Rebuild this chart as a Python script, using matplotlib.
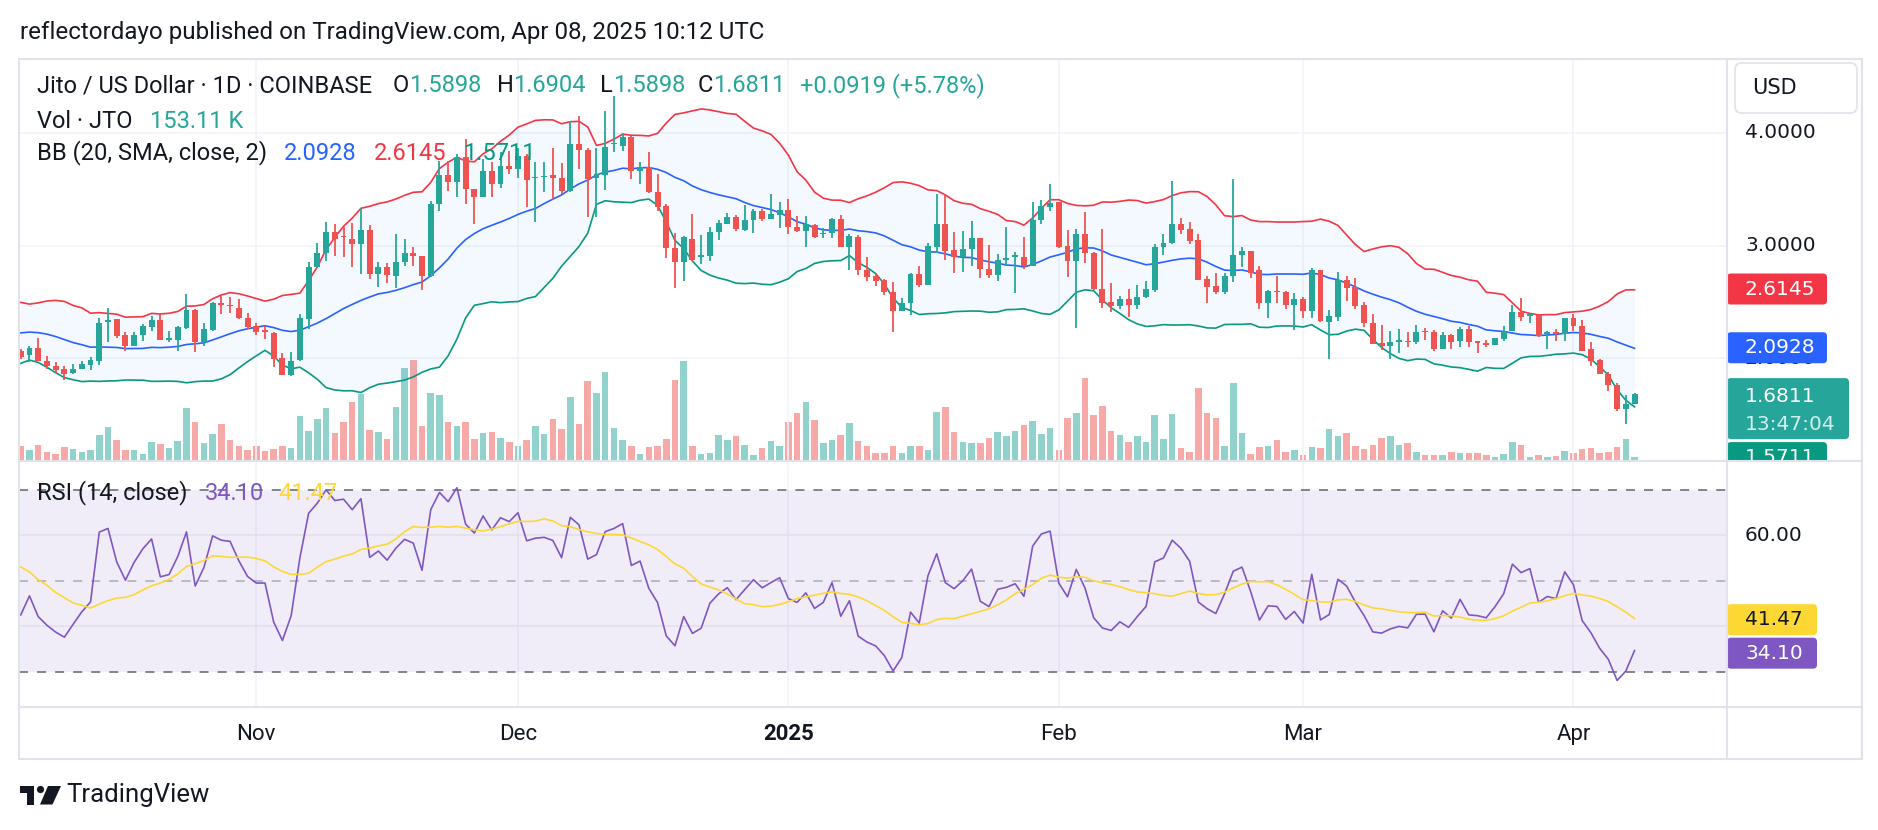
import matplotlib
matplotlib.use("Agg")
import matplotlib.pyplot as plt
import numpy as np
import pandas as pd
from matplotlib.patches import FancyBboxPatch, Rectangle, Polygon, Circle
from matplotlib.lines import Line2D

W, H = 1878, 830
plt.rcParams['font.family'] = ['Roboto', 'DejaVu Sans']

# JTO / USD daily candles (COINBASE), 2024-10-05 .. 2025-04-08
dates = pd.date_range('2024-10-05', '2025-04-08', freq='D')

opens = [2.067, 2.029, 2.088, 1.979, 1.935, 1.900, 1.868, 1.906, 1.941, 1.979,
         2.323, 2.346, 2.205, 2.111, 2.205, 2.273, 2.340, 2.164, 2.164, 2.264,
         2.425, 2.141, 2.252, 2.487, 2.475, 2.449, 2.361, 2.282, 2.252, 2.223,
         2.000, 1.853, 1.988, 2.346, 2.809, 2.938, 3.123, 3.085, 3.056, 3.012,
         3.138, 2.748, 2.809, 2.733, 2.850, 2.933, 2.909, 2.727, 3.367, 3.630,
         3.563, 3.783, 3.504, 3.431, 3.660, 3.548, 3.710, 3.680, 3.795, 3.601,
         3.607, 3.625, 3.601, 3.484, 3.900, 3.848, 3.601, 3.630, 3.900, 3.886,
         3.965, 3.660, 3.701, 3.475, 3.349, 2.977, 2.850, 3.056, 2.903, 2.909,
         3.120, 3.196, 3.255, 3.138, 3.226, 3.305, 3.240, 3.270, 3.314, 3.167,
         3.132, 3.182, 3.103, 3.109, 3.232, 2.991, 3.079, 2.780, 2.733, 2.692,
         2.592, 2.419, 2.487, 2.751, 2.654, 2.991, 3.196, 2.962, 2.903, 2.968,
         3.065, 2.792, 2.742, 2.874, 2.903, 2.897, 2.821, 3.226, 3.343, 3.387,
         2.997, 2.859, 3.103, 2.938, 2.616, 2.499, 2.463, 2.528, 2.469, 2.545,
         2.610, 2.985, 3.021, 3.191, 3.144, 3.050, 2.704, 2.639, 2.587, 2.727,
         2.915, 2.953, 2.786, 2.487, 2.601, 2.587, 2.469, 2.522, 2.419, 2.780,
         2.323, 2.370, 2.698, 2.633, 2.469, 2.317, 2.135, 2.111, 2.147, 2.155,
         2.141, 2.243, 2.229, 2.082, 2.205, 2.155, 2.258, 2.150, 2.132, 2.120,
         2.170, 2.243, 2.413, 2.378, 2.384, 2.217, 2.229, 2.214, 2.361, 2.287,
         2.082, 1.985, 1.862, 1.765, 1.548, 1.5898]
highs = [2.082, 2.111, 2.176, 2.018, 1.965, 1.930, 1.950, 1.979, 2.015, 2.361,
         2.449, 2.352, 2.229, 2.235, 2.302, 2.375, 2.390, 2.243, 2.287, 2.566,
         2.434, 2.317, 2.499, 2.551, 2.545, 2.522, 2.399, 2.317, 2.282, 2.235,
         2.047, 2.053, 2.390, 2.850, 3.021, 3.211, 3.191, 3.167, 3.202, 3.334,
         3.182, 2.850, 2.845, 3.103, 3.056, 2.991, 2.909, 3.396, 3.754, 3.754,
         3.812, 3.944, 3.504, 3.768, 3.739, 3.827, 3.836, 3.871, 3.812, 3.739,
         3.739, 3.871, 3.730, 4.106, 4.150, 3.871, 3.871, 4.199, 4.326, 4.003,
         3.974, 3.745, 3.827, 3.636, 3.372, 3.109, 3.085, 3.284, 3.094, 3.167,
         3.226, 3.290, 3.270, 3.358, 3.328, 3.328, 3.460, 3.387, 3.416, 3.261,
         3.261, 3.196, 3.152, 3.249, 3.270, 3.103, 3.094, 2.897, 2.757, 2.704,
         2.674, 2.537, 2.757, 2.821, 3.021, 3.455, 3.455, 3.123, 3.132, 3.220,
         3.065, 3.006, 2.927, 3.167, 2.947, 3.079, 3.387, 3.402, 3.543, 3.387,
         3.138, 3.147, 3.299, 2.947, 3.147, 2.669, 2.551, 2.616, 2.654, 2.683,
         3.015, 3.103, 3.578, 3.246, 3.211, 3.103, 2.733, 2.757, 2.757, 3.592,
         2.985, 2.953, 2.815, 2.604, 2.733, 2.595, 2.575, 2.545, 2.801, 2.780,
         2.428, 2.762, 2.733, 2.713, 2.499, 2.390, 2.293, 2.243, 2.258, 2.229,
         2.293, 2.264, 2.252, 2.229, 2.214, 2.273, 2.287, 2.155, 2.164, 2.176,
         2.287, 2.469, 2.531, 2.405, 2.390, 2.238, 2.258, 2.361, 2.390, 2.337,
         2.141, 1.994, 1.877, 1.783, 1.672, 1.6904]
lows = [1.994, 1.965, 1.971, 1.906, 1.871, 1.804, 1.862, 1.900, 1.891, 1.944,
        2.141, 2.176, 2.067, 2.106, 2.155, 2.238, 2.164, 2.147, 2.067, 2.258,
        2.053, 2.111, 2.243, 2.390, 2.405, 2.346, 2.258, 2.205, 2.170, 1.921,
        1.848, 1.842, 1.979, 2.258, 2.801, 2.859, 2.909, 2.903, 2.809, 2.748,
        2.704, 2.633, 2.669, 2.625, 2.815, 2.815, 2.604, 2.721, 3.308, 3.484,
        3.431, 3.372, 3.196, 3.431, 3.431, 3.513, 3.636, 3.601, 3.343, 3.211,
        3.475, 3.408, 3.460, 3.475, 3.680, 3.255, 3.255, 3.496, 3.827, 3.836,
        3.587, 3.548, 3.466, 3.308, 2.889, 2.625, 2.683, 2.859, 2.839, 2.859,
        3.050, 3.191, 3.132, 3.132, 3.114, 3.220, 3.232, 3.152, 3.103, 3.120,
        2.985, 3.065, 3.065, 3.070, 2.991, 2.780, 2.742, 2.683, 2.645, 2.557,
        2.229, 2.419, 2.381, 2.633, 2.654, 2.933, 2.874, 2.757, 2.762, 2.815,
        2.713, 2.713, 2.683, 2.830, 2.581, 2.792, 2.821, 3.191, 3.308, 2.977,
        2.721, 2.264, 2.845, 2.610, 2.449, 2.413, 2.434, 2.370, 2.434, 2.537,
        2.587, 2.918, 3.015, 3.103, 3.015, 2.698, 2.487, 2.569, 2.569, 2.674,
        2.809, 2.713, 2.440, 2.361, 2.487, 2.440, 2.252, 2.361, 2.361, 2.323,
        1.994, 2.331, 2.507, 2.440, 2.273, 2.126, 2.076, 1.994, 2.047, 2.097,
        2.126, 2.164, 2.067, 2.082, 2.082, 2.103, 2.103, 2.047, 2.103, 2.120,
        2.155, 2.243, 2.331, 2.317, 2.191, 2.082, 2.155, 2.155, 2.243, 2.067,
        1.930, 1.856, 1.707, 1.531, 1.416, 1.5898]
closes = [2.009, 2.088, 1.979, 1.930, 1.891, 1.862, 1.906, 1.950, 1.985, 2.317,
          2.340, 2.199, 2.111, 2.205, 2.282, 2.340, 2.164, 2.176, 2.273, 2.425,
          2.141, 2.258, 2.493, 2.469, 2.463, 2.361, 2.273, 2.235, 2.235, 1.994,
          1.853, 1.979, 2.361, 2.809, 2.938, 3.123, 3.056, 3.073, 3.012, 3.138,
          2.748, 2.809, 2.742, 2.850, 2.933, 2.909, 2.727, 3.367, 3.630, 3.563,
          3.783, 3.504, 3.431, 3.660, 3.548, 3.710, 3.680, 3.795, 3.584, 3.613,
          3.622, 3.601, 3.484, 3.900, 3.848, 3.592, 3.636, 3.877, 3.912, 3.965,
          3.660, 3.701, 3.475, 3.343, 2.977, 2.850, 3.079, 2.874, 2.915, 3.120,
          3.202, 3.255, 3.144, 3.226, 3.305, 3.240, 3.279, 3.314, 3.161, 3.132,
          3.191, 3.079, 3.114, 3.232, 2.991, 3.085, 2.780, 2.721, 2.683, 2.587,
          2.419, 2.487, 2.751, 2.654, 2.997, 3.196, 2.956, 2.903, 2.968, 3.065,
          2.792, 2.742, 2.874, 2.889, 2.915, 2.821, 3.226, 3.349, 3.378, 2.985,
          2.859, 3.103, 2.933, 2.616, 2.493, 2.463, 2.528, 2.469, 2.545, 2.616,
          2.985, 3.021, 3.196, 3.138, 3.044, 2.698, 2.633, 2.587, 2.733, 2.918,
          2.953, 2.757, 2.487, 2.595, 2.589, 2.469, 2.522, 2.419, 2.780, 2.331,
          2.375, 2.692, 2.625, 2.463, 2.317, 2.126, 2.111, 2.141, 2.158, 2.144,
          2.229, 2.229, 2.082, 2.205, 2.147, 2.258, 2.141, 2.135, 2.120, 2.176,
          2.243, 2.413, 2.367, 2.390, 2.199, 2.229, 2.217, 2.355, 2.287, 2.067,
          1.979, 1.856, 1.760, 1.548, 1.589, 1.6811]
# volume, thousands of JTO
volumes = [576, 422, 614, 346, 256, 538, 461, 346, 422, 998,
           1306, 806, 422, 422, 269, 730, 653, 499, 768, 2035,
           1498, 691, 1037, 1421, 806, 576, 422, 576, 384, 461,
           576, 499, 1728, 1152, 1613, 2035, 1075, 1498, 2266, 2573,
           1190, 1114, 845, 2074, 3571, 3878, 1344, 2611, 2534, 1498,
           1344, 1498, 845, 1075, 1114, 883, 730, 576, 806, 1344,
           1037, 1613, 1229, 2458, 1421, 3072, 2611, 3418, 1267, 806,
           576, 269, 538, 576, 845, 3110, 3840, 576, 269, 307,
           998, 806, 960, 614, 230, 499, 768, 576, 1498, 1843,
           2266, 1574, 691, 806, 998, 1459, 768, 576, 307, 307,
           576, 307, 576, 576, 422, 1882, 2074, 1114, 730, 691,
           691, 883, 1114, 960, 1152, 1382, 1536, 1037, 1267, 422,
           1651, 1843, 3187, 1766, 2112, 1152, 998, 730, 960, 730,
           1766, 845, 1805, 499, 346, 2803, 1843, 1651, 576, 2995,
           1075, 269, 538, 576, 806, 346, 422, 230, 538, 499,
           1229, 960, 1075, 576, 461, 614, 883, 960, 614, 691,
           346, 230, 230, 230, 346, 307, 307, 307, 230, 154,
           269, 730, 614, 154, 230, 154, 192, 384, 307, 461,
           499, 307, 346, 538, 845, 153.11]

# closes of the days before the visible window (not drawn), estimated from the
# band / RSI levels at the left edge; they only start the BB and RSI calculations
closes_before = [2.05, 2.02, 2.08, 2.00, 1.97, 2.03, 1.99, 1.95, 2.00, 1.96,
                 1.95, 2.08, 2.19, 2.32, 2.39, 2.45, 2.33, 2.42, 2.29, 2.37,
                 2.25, 2.31, 2.19, 2.27, 2.15, 2.21, 2.10, 2.14, 2.08]

# values printed in legend and on the scales
last_o, last_h, last_l, last_c = 1.5898, 1.6904, 1.5898, 1.6811
change, change_pct = 0.0919, 5.78
last_vol = '153.11 K'
bb_basis, bb_upper, bb_lower = 2.0928, 2.6145, 1.5711
rsi_last, rsi_ma_last = 34.10, 41.47
countdown = '13:47:04'
price_ticks = [4.0, 3.0, 2.0]
rsi_ticks = [60.0]
month_labels = ['Nov', 'Dec', '2025', 'Feb', 'Mar', 'Apr']

UP, DN = '#26A69A', '#EF5350'
TXT, GRID, BORDER = '#131722', '#F0F3FA', '#E0E3EB'

# ---- indicators -------------------------------------------------------------
npre = len(closes_before)
allc = pd.Series(closes_before + closes)
mid = allc.rolling(20).mean()
sd = allc.rolling(20).std(ddof=0)
bb_mid = mid.values[npre:]
bb_up = (mid + 2 * sd).values[npre:]
bb_lo = (mid - 2 * sd).values[npre:]

d = allc.diff().fillna(0).values
gain = np.where(d > 0, d, 0.0)
loss = np.where(d < 0, -d, 0.0)


def rma(v, n):
    out = np.full(len(v), np.nan)
    out[n] = v[1:n + 1].mean()
    for k in range(n + 1, len(v)):
        out[k] = (out[k - 1] * (n - 1) + v[k]) / n
    return out


rsi_all = 100 - 100 / (1 + rma(gain, 14) / rma(loss, 14))
rsi_ma_all = pd.Series(rsi_all).rolling(14).mean().values
rsi = rsi_all[npre:]
rsi_ma = rsi_ma_all[npre:]

# ---- layout (pixels) --------------------------------------------------------
L, R, RR = 19, 1727, 1862
TOP, MID, RB, BOT = 59, 461, 707, 759
XLIM = (-0.2, 195.6)
PLIM = (1.0871, 4.657)
RLIM = (22.27, 76.35)

fig = plt.figure(figsize=(W / 100, H / 100), dpi=100)
fig.patch.set_facecolor('white')


def px_axes(l, t, r, b):
    a = fig.add_axes([l / W, 1 - b / H, (r - l) / W, (b - t) / H])
    a.set_axis_off()
    return a


x = np.arange(len(dates))
month_idx = [i for i, dt in enumerate(dates) if dt.day == 1]
o, h, l, c = map(np.array, (opens, highs, lows, closes))
up = c >= o
col = np.where(up, UP, DN)

# volume (own scale, bottom of the price pane)
axv = px_axes(L, TOP, R, MID)
axv.set_xlim(*XLIM)
axv.set_ylim(0, (MID - TOP) * 38.4)
vcol = np.where(up, '#92D2CC', '#F7A9A7')
axv.bar(x, volumes, width=0.75, color=vcol, linewidth=0)

# price pane
ax = px_axes(L, TOP, R, MID)
ax.patch.set_alpha(0)
ax.set_xlim(*XLIM)
ax.set_ylim(*PLIM)
for m in month_idx:
    ax.axvline(m, color=GRID, lw=1.2, zorder=0)
for p in price_ticks:
    ax.axhline(p, color=GRID, lw=1.2, zorder=0)
ax.fill_between(x, bb_lo, bb_up, color='#2196F3', alpha=0.05, lw=0, zorder=1)
ax.plot(x, bb_up, color='#F23645', lw=1.2, zorder=3)
ax.plot(x, bb_mid, color='#2962FF', lw=1.2, zorder=3)
ax.plot(x, bb_lo, color='#089981', lw=1.2, zorder=3)
ax.vlines(x, l, h, colors=col, lw=1.3, zorder=4)
body = np.maximum(np.abs(c - o), 0.008)
ax.bar(x, body, bottom=np.minimum(o, c), width=0.68, color=col, lw=0, zorder=5)

# RSI pane
axr = px_axes(L, MID, R, RB)
axr.set_xlim(*XLIM)
axr.set_ylim(*RLIM)
for m in month_idx:
    axr.axvline(m, color=GRID, lw=1.2, zorder=0)
axr.axhspan(30, 70, color='#7E57C2', alpha=0.1, lw=0, zorder=0)
for g in (40, 60):
    axr.axhline(g, color='#E3E0EB', lw=1.2, zorder=1)
axr.axhline(70, color='#787B86', lw=1.3, ls=(0, (5, 5)), zorder=1)
axr.axhline(30, color='#787B86', lw=1.3, ls=(0, (5, 5)), zorder=1)
axr.axhline(50, color='#787B86', lw=1.3, ls=(0, (5, 5)), alpha=0.5, zorder=1)
axr.plot(x, rsi, color='#7E57C2', lw=1.2, zorder=3)
axr.plot(x, rsi_ma, color='#FDD835', lw=1.2, zorder=4)

# time axis
axt = px_axes(L, RB, R, BOT)
axt.set_xlim(*XLIM)
axt.set_ylim(0, 1)
for m, lab in zip(month_idx, month_labels):
    axt.text(m, 0.48, lab, ha='center', va='center', fontsize=16, color=TXT,
             fontweight='bold' if lab.isdigit() else 'normal')

# right price scale
axp = px_axes(R, TOP, RR, MID)
axp.set_xlim(0, RR - R)
axp.set_ylim(*PLIM)
axrs = px_axes(R, MID, RR, RB)
axrs.set_xlim(0, RR - R)
axrs.set_ylim(*RLIM)
AX_FONT = dict(family='DejaVu Sans', fontsize=14.5, va='center', ha='left')
for p in price_ticks:
    axp.text(18, p, f'{p:.4f}', color=TXT, zorder=1, **AX_FONT)
for r in rsi_ticks:
    axrs.text(18, r, f'{r:.2f}', color=TXT, **AX_FONT)


def tag(a, y0, y1, width, fc):
    per_px = (a.get_ylim()[1] - a.get_ylim()[0]) / a.bbox.height
    a.add_patch(FancyBboxPatch((0, y0), width, y1 - y0,
                               boxstyle='round,pad=0,rounding_size=4',
                               mutation_aspect=per_px, fc=fc, ec='none', zorder=3))
    return per_px


ppx = (PLIM[1] - PLIM[0]) / (MID - TOP)
th = 31 * ppx
tag(axp, bb_upper - th / 2, bb_upper + th / 2, 100, '#F23645')
axp.text(18, bb_upper, f'{bb_upper:.4f}', color='white', zorder=4, **AX_FONT)
tag(axp, bb_basis - th / 2, bb_basis + th / 2, 100, '#2962FF')
axp.text(18, bb_basis, f'{bb_basis:.4f}', color='white', zorder=4, **AX_FONT)
tag(axp, last_c - 45 * ppx, last_c + 16 * ppx, 122, '#26A69A')
axp.text(18, last_c - 2 * ppx, f'{last_c:.4f}', color='white', zorder=4, **AX_FONT)
axp.text(18, last_c - 30 * ppx, countdown, color='#D3EEEB', zorder=4, **AX_FONT)
top_low = last_c - 48 * ppx
tag(axp, top_low - th, top_low, 100, '#089981')
axp.text(18, top_low - th / 2, f'{bb_lower:.4f}', color='white', zorder=4, **AX_FONT)

rpx = (RLIM[1] - RLIM[0]) / (RB - MID)
rth = 31 * rpx
tag(axrs, rsi_ma_last - rth / 2, rsi_ma_last + rth / 2, 90, '#FDD835')
axrs.text(18, rsi_ma_last, f'{rsi_ma_last:.2f}', color=TXT, zorder=4, **AX_FONT)
tag(axrs, rsi_last - rth / 2, rsi_last + rth / 2, 90, '#7E57C2')
axrs.text(18, rsi_last, f'{rsi_last:.2f}', color='white', zorder=4, **AX_FONT)

# ---- overlay: frame, header, legends, logo ---------------------------------
ov = fig.add_axes([0, 0, 1, 1], zorder=20)
ov.set_xlim(0, W)
ov.set_ylim(H, 0)
ov.set_axis_off()
ov.patch.set_alpha(0)
ov.add_patch(Rectangle((L, TOP), RR - L, BOT - TOP, fill=False, ec=BORDER, lw=1.5))
for yy in (MID, RB):
    ov.add_line(Line2D([L, RR], [yy, yy], color=BORDER, lw=1.5))
ov.add_line(Line2D([R, R], [TOP, BOT], color=BORDER, lw=1.5))
ov.add_patch(FancyBboxPatch((1735, 63), 122, 50, boxstyle='round,pad=0,rounding_size=7',
                            fc='white', ec='#E0E3EB', lw=1.2))
ov.text(1752, 88, 'USD', fontsize=15, color=TXT, va='center', ha='left',
        family='DejaVu Sans')

ov.text(20, 33, 'reflectordayo published on TradingView.com, Apr 08, 2025 10:12 UTC',
        fontsize=17.4, color=TXT, va='center', ha='left')

renderer = fig.canvas.get_renderer()


def row(x0, y, parts, size=17):
    xx = x0
    for s, colr, gap in parts:
        xx += gap
        t = ov.text(xx, y, s, fontsize=size, color=colr, va='center', ha='left')
        xx += t.get_window_extent(renderer).width


row(37, 86, [('Jito / US Dollar · 1D · COINBASE', TXT, 0),
             ('O', TXT, 21), (f'{last_o:.4f}', UP, 0),
             ('H', TXT, 15), (f'{last_h:.4f}', UP, 0),
             ('L', TXT, 14), (f'{last_l:.4f}', UP, 0),
             ('C', TXT, 13), (f'{last_c:.4f}', UP, 0),
             (f'+{change:.4f} (+{change_pct:.2f}%)', UP, 14)])
row(37, 121, [('Vol · JTO', TXT, 0), (last_vol, UP, 18)])
row(37, 153, [('BB (20, SMA, close, 2)', TXT, 0), (f'{bb_basis:.4f}', '#2962FF', 17),
              (f'{bb_upper:.4f}', '#F23645', 17), (f'{bb_lower:.4f}', '#089981', 17)])
row(37, 493, [('RSI (14, close)', TXT, 0), (f'{rsi_last:.2f}', '#7E57C2', 17),
              (f'{rsi_ma_last:.2f}', '#FDD835', 15)])

# TradingView logo
ov.add_patch(Rectangle((20, 786), 14, 6.5, color=TXT, lw=0))
ov.add_patch(Rectangle((26.5, 786), 7.5, 18.5, color=TXT, lw=0))
ov.add_patch(Circle((40.5, 789.5), 3.6, color=TXT, lw=0))
ov.add_patch(Polygon([(48, 786), (61, 786), (52.5, 804.5), (40, 804.5)], color=TXT, lw=0))
ov.text(66, 795, 'TradingView', fontsize=18.5, color=TXT, va='center', ha='left')

fig.savefig('out.png', dpi=100, facecolor='white')
